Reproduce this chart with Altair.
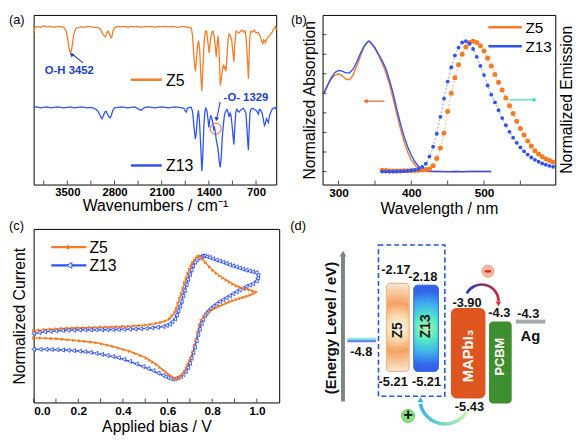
import altair as alt
import pandas as pd

FONT = "Liberation Sans"
ORANGE = "#F57C26"
BLUE = "#2F52F4"
ANNOT_BLUE = "#2140C8"
SERIES = ["Z5", "Z13"]

# ---------------- (a) FT-IR: (wavenumber / cm-1, transmittance a.u.) ----------------
ir_z5 = [(4000,159),(3980,165),(3940,166),(3900,165),(3860,166.5),(3800,165.5),(3750,166),(3700,165),
         (3650,166),(3600,165.5),(3550,165),(3520,162),(3500,155),(3480,145),(3460,139),(3450,138),
         (3435,142),(3415,153),(3395,160),(3370,164),(3300,165.5),(3250,165),(3200,166),(3150,165.5),
         (3100,165),(3050,165),(3010,163),(2980,159),(2955,156),(2935,155),(2915,159),(2895,161),
         (2875,158),(2855,154),(2840,155),(2820,162),(2790,165),(2750,166),(2700,165.5),(2650,166),
         (2600,165),(2550,166),(2500,165.5),(2450,166),(2400,165),(2350,166),(2300,165.5),(2250,166),
         (2200,165),(2150,166),(2100,165.5),(2050,166),(2000,165.5),(1950,166),(1900,165.5),(1850,165),
         (1800,166),(1750,165.5),(1700,165),(1660,164),(1640,155),(1620,132),(1600,119),(1585,130),
         (1570,145),(1552,151),(1535,140),(1520,115),(1504,98),(1490,120),(1470,150),(1450,161),
         (1432,161),(1415,150),(1395,138),(1375,152),(1355,160),(1338,161),(1320,155),(1305,145),
         (1290,134),(1275,148),(1262,156),(1248,140),(1230,104),(1212,112),(1195,123),(1180,125),
         (1170,121),(1158,124),(1146,119),(1130,135),(1115,152),(1099,158),(1080,156),(1060,151),
         (1045,140),(1028,129),(1012,150),(995,161),(975,160),(950,159),(925,161),(900,162),(880,160),
         (861,161),(845,152),(830,136),(813,111),(800,140),(790,156),(775,161),(750,160),(725,162),
         (700,159),(670,160),(640,156),(615,150),(599,148),(585,152),(575,151),(560,149),(545,152),
         (520,155),(500,156),(480,158),(460,160),(440,163),(420,165),(409,166),(400,162)]
ir_z13 = [(4000,81),(3950,81.5),(3900,80.5),(3850,81),(3800,81.5),(3750,80.5),(3700,81),(3650,81.5),
          (3600,81),(3550,80.5),(3500,81),(3450,81.5),(3400,80.5),(3350,81),(3300,81.5),(3250,81),
          (3200,80.5),(3150,81),(3100,80),(3060,78),(3030,75),(3005,71),(2985,69),(2965,72),(2945,76),
          (2925,77),(2905,74),(2885,71),(2865,70),(2845,73),(2825,78),(2800,80.5),(2750,81),(2700,81.5),
          (2650,81),(2600,80.5),(2550,81),(2500,81.5),(2460,80),(2430,78.5),(2400,78),(2380,79.5),
          (2350,81),(2300,81.5),(2250,81),(2200,80.5),(2150,81),(2100,81.5),(2050,81),(2000,80.5),
          (1950,81),(1900,81.5),(1850,81),(1800,80.5),(1770,80),(1750,77),(1735,76),(1720,80),(1690,81),
          (1660,81),(1640,76),(1620,60),(1600,48),(1585,55),(1570,70),(1555,78),(1540,68),(1520,40),
          (1504,14),(1490,30),(1475,60),(1460,76),(1445,80),(1430,78),(1415,70),(1400,60),(1385,68),
          (1370,72),(1355,70),(1340,64),(1329,58),(1315,60),(1300,52),(1285,45),(1265,38),(1245,24),
          (1230,18),(1215,30),(1200,50),(1185,62),(1170,72),(1150,77),(1130,79),(1115,76),(1100,71),
          (1085,75),(1070,72),(1055,62),(1040,50),(1028,42),(1015,60),(1000,76),(985,79),(970,77),
          (950,76),(930,78),(910,79),(890,80),(870,78),(850,75),(835,60),(820,42),(813,36),(800,60),
          (790,75),(775,79),(750,80),(730,79),(700,78),(680,76),(665,74),(650,79),(630,78),(610,75),
          (590,68),(575,62),(560,64),(545,69),(530,67),(515,65),(500,72),(480,76),(460,79),(440,80),
          (420,81),(400,79)]
ir_tick_values = [3850, 3500, 3150, 2800, 2450, 2100, 1750, 1400, 1050, 700]
ir_label_values = [3500, 2800, 2100, 1400, 700]

# ---------------- (b) absorption / emission ----------------
abs_nm = [280,285,290,295,300,305,310,315,320,325,330,335,340,342,345,350,355,360,365,370,375,380,
          385,390,395,400,405,410,415,420,425,430,440,450,460,470,480,490,500,510]
abs_z5 = [0.60,0.66,0.71,0.74,0.75,0.735,0.71,0.705,0.74,0.81,0.885,0.955,0.995,1.0,0.98,0.945,0.89,
          0.83,0.76,0.67,0.56,0.44,0.33,0.23,0.15,0.09,0.05,0.022,0.008,0.002,0.0,0.0,0.0,0.0,0.0,0.0,
          0.0,0.0,0.0,0.0]
abs_z13 = [0.60,0.665,0.72,0.76,0.775,0.77,0.757,0.757,0.785,0.84,0.905,0.96,0.995,1.0,0.985,0.95,0.9,
           0.85,0.79,0.70,0.60,0.48,0.37,0.27,0.19,0.125,0.075,0.04,0.018,0.007,0.002,0.0,0.0,-0.002,
           0.0,-0.001,0.0,0.0,0.0,0.0]
em_nm = [360,365,370,375,380,385,390,395,400,405,410,415,420,425,430,435,440,445,450,455,460,465,470,
         475,480,485,490,495,500,505,510,515,520,525,530,535,540,545,550,555,560,565,570,575,580,585,
         590,595]
em_z5 = [0.01,0.008,0.005,0.004,0.004,0.005,0.006,0.007,0.008,0.008,0.01,0.012,0.015,0.02,0.045,0.10,
         0.18,0.295,0.46,0.60,0.72,0.82,0.90,0.955,0.99,1.0,0.99,0.965,0.925,0.87,0.81,0.745,0.685,
         0.625,0.565,0.505,0.445,0.385,0.33,0.28,0.235,0.195,0.16,0.135,0.113,0.097,0.084,0.074]
em_z13 = [0.0,0.0,0.0,0.0,0.001,0.002,0.003,0.005,0.008,0.012,0.02,0.035,0.06,0.115,0.19,0.29,0.42,
          0.56,0.69,0.80,0.89,0.95,0.99,1.0,0.98,0.94,0.88,0.81,0.74,0.66,0.59,0.53,0.47,0.41,0.355,
          0.305,0.26,0.22,0.185,0.155,0.13,0.108,0.09,0.075,0.062,0.052,0.044,0.037]
wl_tick_values = [300, 350, 400, 450, 500, 550]
wl_label_values = [300, 400, 500]
absn_tick_values = [0, 0.15, 0.3, 0.45, 0.6, 0.75, 0.9, 1.05]

# ---------------- (c) cyclic voltammetry: (bias / V, normalized current) ----------------
cv_z5 = [(0.00,-0.01),(0.025,-0.003),(0.05,0.003),(0.075,0.008),(0.10,0.013),(0.125,0.018),(0.15,0.022),
         (0.175,0.025),(0.20,0.028),(0.225,0.030),(0.25,0.032),(0.275,0.034),(0.30,0.036),(0.325,0.038),
         (0.35,0.040),(0.375,0.042),(0.40,0.045),(0.425,0.048),(0.45,0.053),(0.475,0.058),(0.50,0.064),
         (0.525,0.074),(0.55,0.087),(0.57,0.10),(0.59,0.12),(0.609,0.149),(0.62,0.19),(0.632,0.234),
         (0.64,0.29),(0.647,0.362),(0.655,0.43),(0.662,0.489),(0.669,0.56),(0.676,0.638),(0.684,0.70),
         (0.691,0.766),(0.699,0.82),(0.706,0.872),(0.713,0.91),(0.721,0.945),(0.729,0.972),(0.736,0.991),
         (0.743,1.0),(0.750,0.985),(0.758,0.957),(0.77,0.91),(0.788,0.851),(0.803,0.805),(0.818,0.766),
         (0.833,0.732),(0.848,0.702),(0.863,0.673),(0.878,0.647),(0.893,0.62),(0.908,0.596),(0.922,0.578),
         (0.937,0.562),(0.952,0.55),(0.967,0.54),(0.982,0.527),(0.997,0.511),(0.985,0.49),(0.97,0.47),
         (0.955,0.455),(0.94,0.44),(0.925,0.425),(0.908,0.41),(0.893,0.395),(0.878,0.38),(0.863,0.36),
         (0.848,0.34),(0.833,0.32),(0.818,0.30),(0.803,0.277),(0.788,0.245),(0.773,0.213),(0.762,0.17),
         (0.751,0.128),(0.743,0.06),(0.736,-0.03),(0.729,-0.128),(0.721,-0.21),(0.714,-0.298),(0.706,-0.37),
         (0.699,-0.42),(0.691,-0.468),(0.684,-0.52),(0.676,-0.565),(0.669,-0.596),(0.662,-0.625),
         (0.654,-0.645),(0.647,-0.66),(0.639,-0.665),(0.63,-0.655),(0.62,-0.635),(0.609,-0.61),
         (0.594,-0.573),(0.58,-0.54),(0.565,-0.51),(0.55,-0.468),(0.535,-0.44),(0.52,-0.41),(0.505,-0.383),
         (0.48,-0.35),(0.455,-0.32),(0.43,-0.29),(0.405,-0.268),(0.38,-0.247),(0.355,-0.225),(0.33,-0.208),
         (0.305,-0.19),(0.28,-0.175),(0.255,-0.165),(0.23,-0.157),(0.206,-0.149),(0.18,-0.142),
         (0.155,-0.135),(0.13,-0.128),(0.105,-0.122),(0.08,-0.118),(0.056,-0.115),(0.03,-0.112),(0.0,-0.11)]
cv_z13 = [(0.0,-0.051),(0.025,-0.038),(0.05,-0.028),(0.075,-0.02),(0.10,-0.014),(0.13,-0.009),(0.155,-0.006),
          (0.18,-0.004),(0.206,-0.002),(0.23,-0.001),(0.255,0.0),(0.28,0.0),(0.305,0.001),(0.33,0.002),
          (0.355,0.004),(0.38,0.005),(0.405,0.007),(0.43,0.009),(0.455,0.012),(0.48,0.016),(0.505,0.02),
          (0.53,0.028),(0.555,0.035),(0.58,0.045),(0.595,0.06),(0.609,0.077),(0.62,0.11),(0.632,0.149),
          (0.64,0.2),(0.647,0.255),(0.655,0.32),(0.662,0.383),(0.669,0.46),(0.676,0.532),(0.684,0.61),
          (0.691,0.681),(0.699,0.75),(0.706,0.809),(0.713,0.865),(0.721,0.915),(0.729,0.945),(0.736,0.97),
          (0.743,0.985),(0.751,0.996),(0.758,1.0),(0.766,1.0),(0.777,0.99),(0.788,0.979),(0.803,0.962),
          (0.818,0.945),(0.833,0.93),(0.848,0.915),(0.863,0.898),(0.878,0.881),(0.893,0.866),(0.908,0.851),
          (0.922,0.836),(0.937,0.821),(0.952,0.808),(0.967,0.796),(0.982,0.785),(0.997,0.774),(1.005,0.74),
          (1.003,0.70),(0.998,0.66),(0.982,0.626),(0.967,0.606),(0.952,0.587),(0.937,0.563),(0.922,0.54),
          (0.908,0.515),(0.893,0.489),(0.878,0.462),(0.863,0.434),(0.848,0.408),(0.833,0.383),(0.818,0.352),
          (0.803,0.319),(0.792,0.287),(0.781,0.255),(0.773,0.222),(0.766,0.191),(0.758,0.14),(0.751,0.085),
          (0.743,0.01),(0.736,-0.064),(0.729,-0.15),(0.721,-0.234),(0.714,-0.31),(0.706,-0.383),
          (0.699,-0.45),(0.691,-0.511),(0.68,-0.565),(0.669,-0.604),(0.658,-0.63),(0.647,-0.647),
          (0.636,-0.66),(0.624,-0.668),(0.613,-0.66),(0.602,-0.647),(0.591,-0.633),(0.58,-0.617),
          (0.558,-0.585),(0.535,-0.553),(0.513,-0.525),(0.49,-0.498),(0.46,-0.462),(0.43,-0.426),
          (0.405,-0.4),(0.38,-0.378),(0.355,-0.362),(0.33,-0.347),(0.305,-0.332),(0.28,-0.319),
          (0.255,-0.305),(0.23,-0.296),(0.206,-0.289),(0.18,-0.282),(0.155,-0.277),(0.13,-0.272),
          (0.105,-0.269),(0.08,-0.266),(0.056,-0.264),(0.03,-0.264),(0.0,-0.264)]
bias_tick_values = [0.1 * k for k in range(11)]
bias_label_values = [0, 0.2, 0.4, 0.6, 0.8, 1.0]

# ---------------- (d) energy levels / eV ----------------
d_comp = ["ITO", "Z5", "Z13", "MAPbI₃", "PCBM", "Ag"]
d_bar_name = ["Z5", "Z13", "MAPbI₃", "PCBM"]
d_bar_lumo = [-2.17, -2.18, -3.90, -4.3]
d_bar_homo = [-5.21, -5.21, -5.43, -6.1]
d_level_name = ["ITO", "Ag"]
d_level_e = [-4.8, -4.3]
d_lab_text = ["-2.17", "-2.18", "-3.90", "-4.3", "-4.3", "-4.8", "-5.21", "-5.21", "-5.43"]
d_lab_comp = ["Z5", "Z13", "MAPbI₃", "PCBM", "Ag", "ITO", "Z5", "Z13", "MAPbI₃"]
d_lab_e = [-2.17, -2.18, -3.90, -4.3, -4.3, -4.8, -5.21, -5.21, -5.43]

# ---------------- layout / style (not data) ----------------
W_A, H_A = 246, 172
W_B, H_B = 236, 172
W_C, H_C = 249, 176
W_D, H_D = 231, 176
OX = 22.3  # left margin inside panel (d) before the energy axis
# schematic (non-linear) energy axis of the diagram
E_DOM = [-6.1, -5.43, -5.21, -4.8, -4.3, -3.9, -2.18, -2.17]
E_RNG = [177, 172, 144.5, 112.7, 94, 80.3, 57, 55.3]
d_lab_dx = [0, -7.4, 2.8, 0.9, -4.4, -0.4, -2.7, -3.6, 5.3]
d_lab_dy = [-13.6, -8.3, -5, -8.2, -7.3, 12.3, 10.8, 10.8, 8.7]

COLOR = alt.Color("series:N", scale=alt.Scale(domain=SERIES, range=[ORANGE, BLUE]), legend=None)
AX = dict(grid=False, domain=False, ticks=False, labelColor="black", titleColor="black",
          titleFontWeight="normal", titleFontSize=16)


def pairs_df(pairs, x, y, series):
    d = pd.DataFrame(pairs, columns=[x, y])
    d["i"] = range(len(d))
    d["series"] = series
    return d


def panel_label(txt, x, y):
    return alt.Chart(pd.DataFrame({"t": [txt]})).mark_text(
        align="left", baseline="top", fontSize=13, color="black").encode(
        x=alt.value(x), y=alt.value(y), text="t:N")


one = pd.DataFrame({"k": [0]})

# =============================== panel (a) ===============================
xa = alt.X("wn:Q", scale=alt.Scale(domain=[400, 4000], reverse=True, nice=False, zero=False),
           axis=alt.Axis(values=ir_label_values, format="d", title="Wavenumbers / cm⁻¹",
                         labelFontSize=11.5, labelFontWeight="bold", labelPadding=2, titlePadding=0, **AX))
ya = alt.Y("T:Q", scale=alt.Scale(domain=[0, 178], nice=False, zero=False), axis=None)

ir_df = pd.concat([pairs_df(ir_z5, "wn", "T", "Z5"), pairs_df(ir_z13, "wn", "T", "Z13")])
a_lines = alt.Chart(ir_df).mark_line(strokeWidth=1.3).encode(x=xa, y=ya, color=COLOR)

a_leg = pd.DataFrame({"series": SERIES, "wn": [2557, 2557], "wn2": [2099, 2099], "T": [110, 20]})
a_leg_line = alt.Chart(a_leg).mark_rule(strokeWidth=2.5).encode(x=xa, x2="wn2:Q", y=ya, color=COLOR)
a_leg_txt = alt.Chart(pd.DataFrame({"series": SERIES, "wn": [2035, 2035], "T": [109, 19]})).mark_text(
    align="left", baseline="middle", fontSize=16, color="black").encode(x=xa, y=ya, text="series:N")

a_ann = pd.DataFrame({"t": ["O-H 3452", "-O- 1329"], "wn": [3471, 849], "T": [119, 90.5]})
a_ann_txt = alt.Chart(a_ann).mark_text(fontSize=11.5, fontWeight="bold", color=ANNOT_BLUE).encode(
    x=xa, y=ya, text="t:N")
a_arrows = pd.DataFrame({"wn": [3267, 1232], "T": [127.7, 86.7], "wn2": [3440, 1286], "T2": [137.5, 68]})
a_arrow_lines = alt.Chart(a_arrows).mark_rule(strokeWidth=1.1, color=ANNOT_BLUE).encode(
    x=xa, x2="wn2:Q", y=ya, y2="T2:Q")
a_heads = []
for wn, t, ang in [(3438, 136.5, 310), (1287, 68.5, 191)]:
    a_heads.append(alt.Chart(pd.DataFrame({"wn": [wn], "T": [t]})).mark_point(
        shape="triangle-up", size=22, filled=True, color=ANNOT_BLUE, angle=ang, opacity=1).encode(x=xa, y=ya))
a_circle = alt.Chart(pd.DataFrame({"wn": [1299], "T": [58.7]})).mark_point(
    shape="circle", size=125, filled=False, color="#E8553A", strokeWidth=1, opacity=1).encode(x=xa, y=ya)
a_ticks = alt.Chart(pd.DataFrame({"wn": ir_tick_values})).mark_tick(
    orient="vertical", size=4, thickness=1, color="black").encode(x=xa, y=alt.value(H_A - 2))

panel_a = alt.layer(a_lines, a_leg_line, a_leg_txt, a_ann_txt, a_arrow_lines, *a_heads, a_circle,
                    a_ticks, panel_label("(a)", -25, -1)).properties(width=W_A, height=H_A)

# =============================== panel (b) ===============================
xb = alt.X("nm:Q", scale=alt.Scale(domain=[278, 598], nice=False, zero=False),
           axis=alt.Axis(values=wl_label_values, format="d", title="Wavelength / nm",
                         labelFontSize=12, labelFontWeight="bold", labelPadding=3, titlePadding=2, **AX))
yb_scale = alt.Scale(domain=[-0.0996, 1.2013], nice=False, zero=False)
yb = alt.Y("v:Q", scale=yb_scale,
           axis=alt.Axis(title="Normalized Absorption", labels=False, titlePadding=5, **AX))

abs_df = pd.concat([pd.DataFrame({"nm": abs_nm, "v": abs_z5, "series": "Z5"}),
                    pd.DataFrame({"nm": abs_nm, "v": abs_z13, "series": "Z13"})])
em_df = pd.concat([pd.DataFrame({"nm": em_nm, "v": em_z5, "series": "Z5"}),
                   pd.DataFrame({"nm": em_nm, "v": em_z13, "series": "Z13"})])
b_abs = alt.Chart(abs_df).mark_line(strokeWidth=1.4).encode(x=xb, y=yb, color=COLOR)
b_em_line = alt.Chart(em_df).mark_line(strokeWidth=0.7, strokeDash=[2, 2], opacity=0.8).encode(
    x=xb, y=yb, color=COLOR)
b_em_z5 = alt.Chart(em_df).transform_filter(alt.datum.series == "Z5").mark_point(
    filled=True, size=26, opacity=1, color=ORANGE, shape="circle").encode(x=xb, y=yb)
b_em_z13 = alt.Chart(em_df).transform_filter(alt.datum.series == "Z13").mark_point(
    filled=True, size=15, opacity=1, color=BLUE, shape="circle").encode(x=xb, y=yb)

b_leg = pd.DataFrame({"series": SERIES, "nm": [506, 506], "nm2": [552, 552], "v": [1.107, 0.961]})
b_leg_line = alt.Chart(b_leg).mark_rule(strokeWidth=2.5).encode(x=xb, x2="nm2:Q", y=yb, color=COLOR)
b_leg_txt = alt.Chart(pd.DataFrame({"series": SERIES, "nm": [557, 557], "v": [1.10, 0.954]})).mark_text(
    align="left", baseline="middle", fontSize=15.5, color="black").encode(x=xb, y=yb, text="series:N")

b_arrows = pd.DataFrame({"nm": [363, 534], "nm2": [338, 569], "v": [0.54, 0.55],
                         "c": ["#E8602C", "#3FE0A8"]})
b_arrow_lines = alt.Chart(b_arrows).mark_rule(strokeWidth=1.2).encode(
    x=xb, x2="nm2:Q", y=yb, color=alt.Color("c:N", scale=None))
b_head_l = alt.Chart(pd.DataFrame({"nm": [337], "v": [0.54]})).mark_point(
    shape="triangle-left", size=22, filled=True, color="#E8602C", opacity=1).encode(x=xb, y=yb)
b_head_r = alt.Chart(pd.DataFrame({"nm": [570], "v": [0.55]})).mark_point(
    shape="triangle-right", size=22, filled=True, color="#3FE0A8", opacity=1).encode(x=xb, y=yb)

b_xticks = alt.Chart(pd.DataFrame({"nm": wl_tick_values})).mark_tick(
    orient="vertical", size=4, thickness=1, color="black").encode(x=xb, y=alt.value(H_B - 2))
b_yticks = alt.Chart(pd.DataFrame({"v": absn_tick_values})).mark_tick(
    orient="horizontal", size=4, thickness=1, color="black").encode(x=alt.value(2), y=yb)
b_right_title = alt.Chart(pd.DataFrame({"t": ["Normalized Emission"]})).mark_text(
    angle=270, fontSize=16, color="black", baseline="middle", align="center").encode(
    x=alt.value(W_B + 12), y=alt.value(H_B / 2), text="t:N")

panel_b = alt.layer(b_em_line, b_abs, b_em_z5, b_em_z13, b_leg_line, b_leg_txt, b_arrow_lines,
                    b_head_l, b_head_r, b_xticks, b_yticks, b_right_title,
                    panel_label("(b)", -32, -1)).properties(width=W_B, height=H_B)

# =============================== panel (c) ===============================
xc = alt.X("V:Q", scale=alt.Scale(domain=[0, 1.1], nice=False, zero=False),
           axis=alt.Axis(values=bias_label_values, format=".1f", title="Applied bias / V",
                         labelFontSize=12, labelFontWeight="bold", labelPadding=3, titlePadding=2, **AX))
yc = alt.Y("I:Q", scale=alt.Scale(domain=[-0.983, 1.366], nice=False, zero=False),
           axis=alt.Axis(title="Normalized Current", labels=False, titlePadding=6.5, **AX))

cv_df = pd.concat([pairs_df(cv_z5, "V", "I", "Z5"), pairs_df(cv_z13, "V", "I", "Z13")])
c_lines = alt.Chart(cv_df).mark_line(strokeWidth=1.4).encode(
    x=xc, y=yc, color=COLOR, order="i:Q")
c_pts_z5 = alt.Chart(cv_df).transform_filter(alt.datum.series == "Z5").mark_point(
    shape="triangle-right", filled=True, size=14, color=ORANGE, opacity=1).encode(x=xc, y=yc)
c_pts_z13 = alt.Chart(cv_df).transform_filter(alt.datum.series == "Z13").mark_point(
    shape="triangle-left", filled=False, fill="white", size=18, color=BLUE, strokeWidth=0.9,
    opacity=1).encode(x=xc, y=yc)

c_leg = pd.DataFrame({"series": SERIES, "V": [0.079, 0.079], "V2": [0.236, 0.236], "I": [1.119, 0.872]})
c_leg_line = alt.Chart(c_leg).mark_rule(strokeWidth=2.3).encode(x=xc, x2="V2:Q", y=yc, color=COLOR)
c_leg_m1 = alt.Chart(pd.DataFrame({"V": [0.16], "I": [1.119]})).mark_point(
    shape="triangle-right", filled=True, size=30, color=ORANGE, opacity=1).encode(x=xc, y=yc)
c_leg_m2 = alt.Chart(pd.DataFrame({"V": [0.16], "I": [0.872]})).mark_point(
    shape="triangle-left", filled=False, fill="white", size=34, color=BLUE, strokeWidth=1,
    opacity=1).encode(x=xc, y=yc)
c_leg_txt = alt.Chart(pd.DataFrame({"series": SERIES, "V": [0.25, 0.25], "I": [1.113, 0.866]})).mark_text(
    align="left", baseline="middle", fontSize=16, color="black").encode(x=xc, y=yc, text="series:N")
c_ticks = alt.Chart(pd.DataFrame({"V": bias_tick_values})).mark_tick(
    orient="vertical", size=4, thickness=1, color="black").encode(x=xc, y=alt.value(H_C - 2))

panel_c = alt.layer(c_lines, c_pts_z13, c_pts_z5, c_leg_line, c_leg_m1, c_leg_m2, c_leg_txt, c_ticks,
                    panel_label("(c)", -25, -9)).properties(width=W_C, height=H_C)

# =============================== panel (d) ===============================
xd = alt.X("comp:N", scale=alt.Scale(type="band", domain=d_comp, range=[OX, OX + 208],
                                     paddingInner=0, paddingOuter=0), axis=None)
e_scale = alt.Scale(domain=E_DOM, range=E_RNG, nice=False, zero=False)
yd = alt.Y("e:Q", scale=e_scale, axis=None)

bars_df = pd.DataFrame({"comp": d_bar_name, "lumo": d_bar_lumo, "homo": d_bar_homo})


def radial(stops):
    return {"gradient": "radial", "x1": 0.5, "y1": 0.5, "r1": 0, "x2": 0.5, "y2": 0.5, "r2": 0.5,
            "stops": [{"offset": o, "color": c} for o, c in stops]}


def bar_layer(name, width, xoff, **kw):
    return alt.Chart(bars_df).transform_filter(alt.datum.comp == name).mark_bar(
        width=width, xOffset=xoff, **kw).encode(
        x=xd, y=alt.Y("lumo:Q", scale=e_scale, axis=None), y2="homo:Q")


grad_z5 = radial([(0, "#FFFBF2"), (0.3, "#FBD6A6"), (0.55, "#F5A062"), (0.85, "#F9CFA8"), (1, "#FCE9DA")])
grad_z13 = radial([(0, "#B8F5A8"), (0.3, "#4DE8C8"), (0.6, "#3FA8F0"), (0.85, "#3468EC"), (1, "#3060E8")])
d_bars = [
    bar_layer("Z5", 23, 2, fill=grad_z5, stroke="#F2B48A", strokeWidth=1.2, cornerRadius=4),
    bar_layer("Z13", 25, -4, fill=grad_z13, stroke="#3A62E6", strokeWidth=1, cornerRadius=4),
    bar_layer("MAPbI₃", 35, 4, color="#DF5520", cornerRadius=6),
    bar_layer("PCBM", 23, 2, color="#3F8E2F", cornerRadius=4),
]

lev_df = pd.DataFrame({"comp": d_level_name, "e": d_level_e})
d_ito_blue = alt.Chart(lev_df).transform_filter(alt.datum.comp == "ITO").mark_tick(
    orient="horizontal", size=29, thickness=2.6, color="#3050E0", yOffset=1).encode(x=xd, y=yd)
d_ito_cyan = alt.Chart(lev_df).transform_filter(alt.datum.comp == "ITO").mark_tick(
    orient="horizontal", size=29, thickness=2, color="#45E2D4", yOffset=-1.3).encode(x=xd, y=yd)
d_ag = alt.Chart(lev_df).transform_filter(alt.datum.comp == "Ag").mark_tick(
    orient="horizontal", size=30, thickness=4, color="#7E8484", xOffset=-2).encode(x=xd, y=yd)

d_labels = []
for k, (txt, comp, e) in enumerate(zip(d_lab_text, d_lab_comp, d_lab_e)):
    d_labels.append(alt.Chart(pd.DataFrame({"comp": [comp], "e": [e], "t": [txt]})).mark_text(
        dx=d_lab_dx[k], dy=d_lab_dy[k], fontSize=13, fontWeight="bold", color="#111111",
        baseline="middle").encode(x=xd, y=yd, text="t:N"))
d_labels.append(alt.Chart(pd.DataFrame({"comp": ["Ag"], "e": [-4.3], "t": ["Ag"]})).mark_text(
    dx=-2.2, dy=14.3, fontSize=15, fontWeight="bold", color="#111111", baseline="middle").encode(
    x=xd, y=yd, text="t:N"))

# (screen x offset, screen y offset below LUMO, colour, font size); text is rotated 270 deg,
# so the offsets are given to Vega in the rotated frame: dx = -down, dy = right
bar_text_layout = {"Z5": (2, 47.5, "#1A1A1A", 14), "Z13": (-4, 41.7, "#1A1A1A", 14),
                   "MAPbI₃": (4, 48.4, "white", 15), "PCBM": (2, 35.5, "white", 13)}
d_bar_txt = []
for name, lumo in zip(d_bar_name, d_bar_lumo):
    sx, sy, col, fs = bar_text_layout[name]
    d_bar_txt.append(alt.Chart(pd.DataFrame({"comp": [name], "e": [lumo], "t": [name]})).mark_text(
        angle=270, dx=-sy, dy=sx, fontSize=fs, fontWeight="bold", color=col, baseline="middle",
        align="center").encode(x=xd, y=yd, text="t:N"))

d_box = alt.Chart(one).mark_rect(fill="white", fillOpacity=0, stroke="#2456D6", strokeWidth=1.6,
                                 strokeDash=[5, 3]).encode(
    x=alt.value(OX + 34.4), x2=alt.value(OX + 101.7), y=alt.value(16.3), y2=alt.value(169.7))
d_axis = alt.Chart(one).mark_rule(strokeWidth=4, color="#7F8585").encode(
    x=alt.value(OX - 1.6), y=alt.value(26), y2=alt.value(175))
d_axis_head = alt.Chart(one).mark_point(shape="triangle-up", size=45, filled=True, color="#7F8585",
                                        opacity=1).encode(x=alt.value(OX - 1.6), y=alt.value(25))
d_title = alt.Chart(pd.DataFrame({"t": ["(Energy Level / eV)"]})).mark_text(
    angle=270, fontSize=15, fontWeight="bold", color="#111111", baseline="middle", align="center").encode(
    x=alt.value(OX - 14), y=alt.value(100.5), text="t:N")

arc1_fill = {"gradient": "linear", "x1": 0, "y1": 0, "x2": 1, "y2": 0,
             "stops": [{"offset": 0, "color": "#1E3CC8"}, {"offset": 1, "color": "#E0262E"}]}
arc2_fill = {"gradient": "linear", "x1": 0, "y1": 0, "x2": 1, "y2": 0,
             "stops": [{"offset": 0, "color": "#34B4E4"}, {"offset": 1, "color": "#C4F4A8"}]}
d_arc1 = alt.Chart(one).mark_arc(radius=18.5, radius2=15.8, theta=5.2, theta2=7.85, fill=arc1_fill).encode(
    x=alt.value(OX + 139), y=alt.value(73.5))
d_arc1_head = alt.Chart(one).mark_point(shape="triangle-down", size=30, filled=True, color="#E0262E",
                                        opacity=1).encode(x=alt.value(OX + 156), y=alt.value(76))
d_arc2 = alt.Chart(one).mark_arc(radius=27.5, radius2=24, theta=2.15, theta2=4.5, fill=arc2_fill).encode(
    x=alt.value(OX + 102), y=alt.value(172))
d_arc2_head = alt.Chart(one).mark_point(shape="triangle-up", size=38, filled=True, color="#34B4E4",
                                        opacity=1).encode(x=alt.value(OX + 77), y=alt.value(173))
d_minus = alt.Chart(one).mark_point(shape="circle", size=150, filled=True, color="#F5B8A0",
                                    stroke="#EE9F86", strokeWidth=1, opacity=1).encode(
    x=alt.value(OX + 145.4), y=alt.value(43))
d_minus_bar = alt.Chart(one).mark_rule(strokeWidth=2.4, color="#E0281E").encode(
    x=alt.value(OX + 142.2), x2=alt.value(OX + 148.6), y=alt.value(43))
d_plus = alt.Chart(one).mark_point(shape="circle", size=170, filled=True, color="#8BE27E",
                                   stroke="#5CC05A", strokeWidth=1, opacity=1).encode(
    x=alt.value(OX + 64.4), y=alt.value(189.7))
d_plus_txt = alt.Chart(pd.DataFrame({"t": ["+"]})).mark_text(
    fontSize=17, fontWeight="bold", color="#111111", baseline="middle", dy=-1).encode(
    x=alt.value(OX + 64.4), y=alt.value(189.7), text="t:N")

panel_d = alt.layer(d_box, d_axis, d_axis_head, *d_bars, d_ito_blue, d_ito_cyan, d_ag, *d_labels,
                    *d_bar_txt, d_title, d_arc1, d_arc1_head, d_arc2, d_arc2_head, d_minus, d_minus_bar,
                    d_plus, d_plus_txt, panel_label("(d)", OX - 55, -9)).properties(
    width=W_D, height=H_D, view=alt.ViewBackground(strokeOpacity=0))

# =============================== assemble ===============================
chart = alt.concat(panel_a, panel_b, panel_c, panel_d, columns=2, bounds="flush",
                   spacing={"row": 45, "column": 44}).properties(
    padding={"left": 0, "top": 2, "right": 0, "bottom": 0}
).configure(font=FONT).configure_view(stroke="black", strokeWidth=1)

chart.save("out.html", embed_options={"renderer": "svg", "actions": False})
